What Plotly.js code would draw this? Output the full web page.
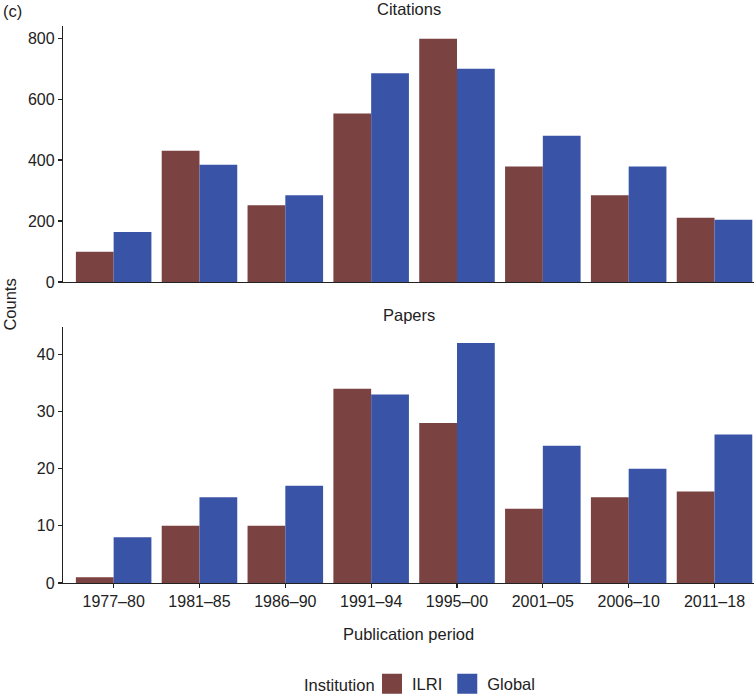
<!DOCTYPE html>
<html>
<head>
<meta charset="utf-8">
<script src="https://cdn.plot.ly/plotly-3.0.1.min.js"></script>
<style>html,body{margin:0;padding:0;background:#fff;}#chart{width:754px;height:698px;}</style>
</head>
<body>
<div id="chart"></div>
<script>
const periods = ["1977–80","1981–85","1986–90","1991–94","1995–00","2001–05","2006–10","2011–18"];
const citationsILRI = [99, 431, 252, 553, 798, 379, 285, 211];
const citationsGlobal = [164, 385, 285, 685, 700, 480, 379, 204];
const papersILRI = [1, 10, 10, 34, 28, 13, 15, 16];
const papersGlobal = [8, 15, 17, 33, 42, 24, 20, 26];
const institutions = ["ILRI", "Global"];

const colILRI = "#7a4240";
const colGlobal = "#3954a6";
const font = "Liberation Sans, Arial, Helvetica, sans-serif";

const traces = [
  {type:"bar", name:"ILRI", x:periods, y:citationsILRI, xaxis:"x", yaxis:"y", marker:{color:colILRI}, showlegend:false},
  {type:"bar", name:"Global", x:periods, y:citationsGlobal, xaxis:"x", yaxis:"y", marker:{color:colGlobal}, showlegend:false},
  {type:"bar", name:"ILRI", x:periods, y:papersILRI, xaxis:"x2", yaxis:"y2", marker:{color:colILRI}, showlegend:false},
  {type:"bar", name:"Global", x:periods, y:papersGlobal, xaxis:"x2", yaxis:"y2", marker:{color:colGlobal}, showlegend:false},
  // legend-only entries with larger square swatches (no visible points)
  {type:"scatter", mode:"markers", name:institutions[0], x:[null], y:[null], xaxis:"x2", yaxis:"y2",
   marker:{symbol:"square", size:16, color:colILRI, line:{color:colILRI, width:4}}, showlegend:true, hoverinfo:"skip"},
  {type:"scatter", mode:"markers", name:institutions[1], x:[null], y:[null], xaxis:"x2", yaxis:"y2",
   marker:{symbol:"square", size:16, color:colGlobal, line:{color:colGlobal, width:4}}, showlegend:true, hoverinfo:"skip"}
];

const axisCommon = {showgrid:false, zeroline:false, showline:true, linecolor:"#222", linewidth:1.2,
  tickfont:{family:font, size:16, color:"#222"}, ticklen:4, tickcolor:"#222", tickwidth:1.2};

const layout = {
  width:754, height:698,
  margin:{l:63, r:0, t:26, b:115},
  paper_bgcolor:"#fff", plot_bgcolor:"#fff",
  font:{family:font, size:16, color:"#222"},
  barmode:"group", bargap:0.12, bargroupgap:0,
  showlegend:true,
  legend:{orientation:"h", xref:"container", yref:"container", x:372/754, xanchor:"left", y:1-684/698, yanchor:"middle",
    font:{family:font, size:16.5, color:"#222"}, traceorder:"normal", itemsizing:"trace"},
  xaxis:Object.assign({}, axisCommon, {domain:[0,1], anchor:"y", range:[-0.59,7.46], showticklabels:false, ticks:"", type:"category"}),
  yaxis:Object.assign({}, axisCommon, {domain:[0.5404,1], anchor:"x", range:[0,840], dtick:200, ticks:"outside"}),
  xaxis2:Object.assign({}, axisCommon, {domain:[0,1], anchor:"y2", range:[-0.59,7.46], ticks:"outside", type:"category", categoryarray:periods, categoryorder:"array"}),
  yaxis2:Object.assign({}, axisCommon, {domain:[0,0.4596], anchor:"x2", range:[0,44.8], dtick:10, ticks:"outside"}),
  annotations:[
    {text:"Citations", xref:"paper", yref:"paper", x:0.5, y:1.0305, xanchor:"center", yanchor:"middle", showarrow:false, font:{family:font, size:16.5, color:"#222"}},
    {text:"Papers", xref:"paper", yref:"paper", x:0.5, y:0.4596+0.0215, xanchor:"center", yanchor:"middle", showarrow:false, font:{family:font, size:16.5, color:"#222"}},
    {text:"(c)", xref:"paper", yref:"paper", x:-0.09, y:1.027, xanchor:"left", yanchor:"middle", showarrow:false, font:{family:font, size:16.5, color:"#222"}},
    {text:"Counts", xref:"paper", yref:"paper", x:-0.078, y:0.5, xanchor:"center", yanchor:"middle", textangle:-90, showarrow:false, font:{family:font, size:16.5, color:"#222"}},
    {text:"Publication period", xref:"paper", yref:"paper", x:0.5, y:-0.0916, xanchor:"center", yanchor:"middle", showarrow:false, font:{family:font, size:16.5, color:"#222"}},
    {text:"Institution", xref:"paper", yref:"paper", x:0.4544, y:-0.1834, xanchor:"right", yanchor:"middle", showarrow:false, font:{family:font, size:16.5, color:"#222"}}
  ]
};

Plotly.newPlot("chart", traces, layout, {displayModeBar:false, staticPlot:true});
</script>
</body>
</html>
